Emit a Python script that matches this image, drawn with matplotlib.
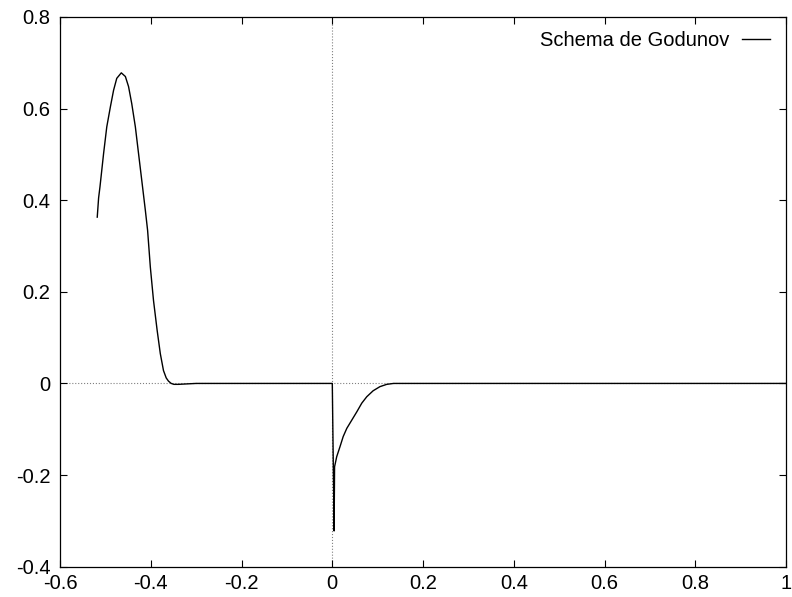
import matplotlib
matplotlib.use("Agg")
from matplotlib import pyplot as plt

plt.rcParams['font.family'] = ['Liberation Sans', 'DejaVu Sans']

# points (x, u)
x_vals = [-0.518, -0.515, -0.512, -0.504, -0.497, -0.489, -0.482, -0.475,
          -0.465, -0.456, -0.449, -0.442, -0.434, -0.427, -0.419, -0.412,
          -0.407, -0.401, -0.394, -0.386, -0.379, -0.372, -0.366, -0.361,
          -0.355, -0.349, -0.339, -0.32, -0.30, 0.0, 0.004, 0.005,
          0.0097, 0.017, 0.024, 0.032, 0.043, 0.054, 0.065, 0.076,
          0.090, 0.105, 0.120, 0.135, 0.2, 1.0]
u_vals = [0.363, 0.405, 0.429, 0.502, 0.560, 0.604, 0.640, 0.666,
          0.678, 0.670, 0.648, 0.611, 0.560, 0.502, 0.436, 0.378,
          0.334, 0.254, 0.181, 0.116, 0.065, 0.028, 0.012, 0.005,
          0.0, -0.002, -0.002, -0.001, 0.0, 0.0, -0.322, -0.182,
          -0.160, -0.138, -0.116, -0.098, -0.080, -0.062, -0.043, -0.029,
          -0.016, -0.007, -0.002, 0.0, 0.0, 0.0]
label = "Schema de Godunov"

xticks = [-0.6, -0.4, -0.2, 0, 0.2, 0.4, 0.6, 0.8, 1]
yticks = [-0.4, -0.2, 0, 0.2, 0.4, 0.6, 0.8]

fig = plt.figure(figsize=(7.92, 5.97), dpi=100)
ax = fig.add_axes([0.0758, 0.0508, 0.9167, 0.9208])

# axes en zéro, pointillés
ax.axhline(0, color='grey', linestyle=':', linewidth=0.8, zorder=1)
ax.axvline(0, color='grey', linestyle=':', linewidth=0.8, zorder=1)

ax.plot(x_vals, u_vals, color='black', linewidth=1.0, label=label, zorder=2)

ax.set_xlim(-0.6, 1)
ax.set_ylim(-0.4, 0.8)
ax.set_xticks(xticks)
ax.set_yticks(yticks)
ax.set_xticklabels([f"{t:g}" for t in xticks])
ax.set_yticklabels([f"{t:g}" for t in yticks])
ax.tick_params(direction='in', top=True, right=True, length=5, width=0.8,
               labelsize=14.5)
ax.tick_params(axis='x', pad=5)
ax.tick_params(axis='y', pad=7)
for s in ax.spines.values():
    s.set_linewidth(0.9)

ax.legend(loc='upper right', bbox_to_anchor=(0.978, 0.975), frameon=False,
          markerfirst=False, fontsize=14.5, handlelength=1.4,
          handletextpad=0.6, borderpad=0, borderaxespad=0)

fig.savefig("out.png", dpi=100)
plt.close(fig)
